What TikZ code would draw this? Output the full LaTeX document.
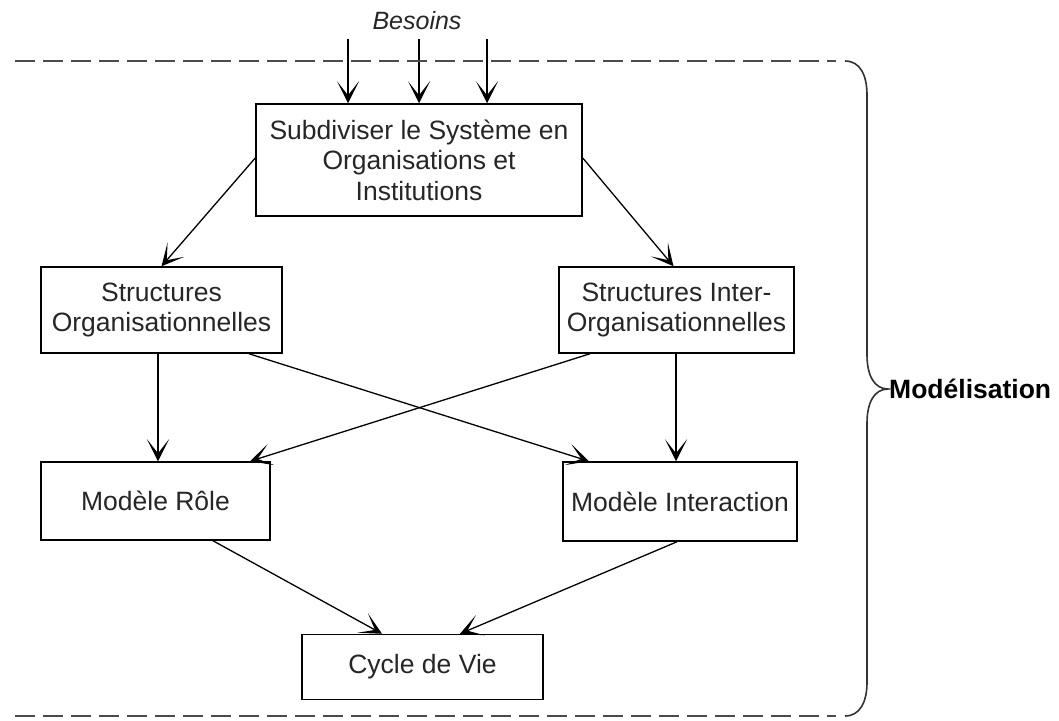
\documentclass[tikz,border=0pt]{standalone}
\usepackage{fontspec}
\setmainfont{Liberation Sans}
\usetikzlibrary{arrows.meta,calc}
\begin{document}
\begin{tikzpicture}[x=1pt,y=-1pt,
  box/.style={draw=black,line width=1.5pt,rectangle,inner sep=0pt,align=center,
    font=\fontsize{26.5}{30.5}\selectfont,text=black!85},
  arr/.style={line width=1.3pt,-{Stealth[length=22pt,width=22pt,inset=14pt]}},
  dashline/.style={draw=black!70,line width=2pt,dash pattern=on 20pt off 8pt},
  bracestyle/.style={draw=black!80,line width=1.6pt},
]
\useasboundingbox (0,0) rectangle (1059,720);

% boxes
\node[box,minimum width=326pt,minimum height=112pt] (sub) at (419,160)
  {Subdiviser le Système en\\Organisations et\\Institutions};
\node[box,minimum width=241pt,minimum height=86pt] (so) at (161.5,310)
  {Structures\\Organisationnelles};
\node[box,minimum width=235pt,minimum height=86pt] (si) at (676.5,310)
  {Structures Inter-\\Organisationnelles};
\node[box,minimum width=229pt,minimum height=78pt] (mr) at (155.5,501)
  {Modèle Rôle};
\node[box,minimum width=234pt,minimum height=79pt] (mi) at (680,501.5)
  {Modèle Interaction};
\node[box,minimum width=241pt,minimum height=65pt] (cv) at (422.5,667)
  {Cycle de Vie};

% labels
\node[font=\fontsize{25}{30}\selectfont\itshape,text=black!85] (bes) at (417,21) {Besoins};
\node[anchor=west,font=\fontsize{26.5}{30}\selectfont\bfseries,text=black,inner sep=0pt] (mod) at (889,389) {Modélisation};

% input arrows
\coordinate (b1) at (348,39);
\coordinate (b2) at (419,39);
\coordinate (b3) at (487,39);
\draw[arr] (b1) -- (b1 |- sub.north);
\draw[arr] (b2) -- (b2 |- sub.north);
\draw[arr] (b3) -- (b3 |- sub.north);

% connectors
\draw[arr] ([yshift=2pt]sub.west) -- (so.north);
\draw[arr] ([yshift=2pt]sub.east) -- ([xshift=-3pt]si.north);
\coordinate (v1) at (158,0);
\coordinate (v2) at (676,0);
\draw[arr] (v1 |- so.south) -- (v1 |- mr.north);
\draw[arr] (v2 |- si.south) -- (v2 |- mi.north);
\draw[arr] ([xshift=87.5pt]so.south) -- ([xshift=-91pt]mi.north);
\draw[arr] ([xshift=-86.5pt]si.south) -- ([xshift=94.5pt]mr.north);
\draw[arr] ([xshift=57.5pt]mr.south) -- ([xshift=-40.5pt]cv.north);
\draw[arr] ([xshift=-3pt]mi.south) -- ([xshift=37.5pt]cv.north);

% dashed boundaries
\draw[dashline] (15,61) -- (836,61);
\draw[dashline] (15,716) -- (836,716);

% brace
\draw[bracestyle] (845,61) .. controls (860,61) and (867,75) .. (867,95)
  -- (867,355) .. controls (867,375) and (874,389) .. (888,389)
  .. controls (874,389) and (867,403) .. (867,423)
  -- (867,682) .. controls (867,702) and (860,716) .. (845,716);
\end{tikzpicture}
\end{document}
